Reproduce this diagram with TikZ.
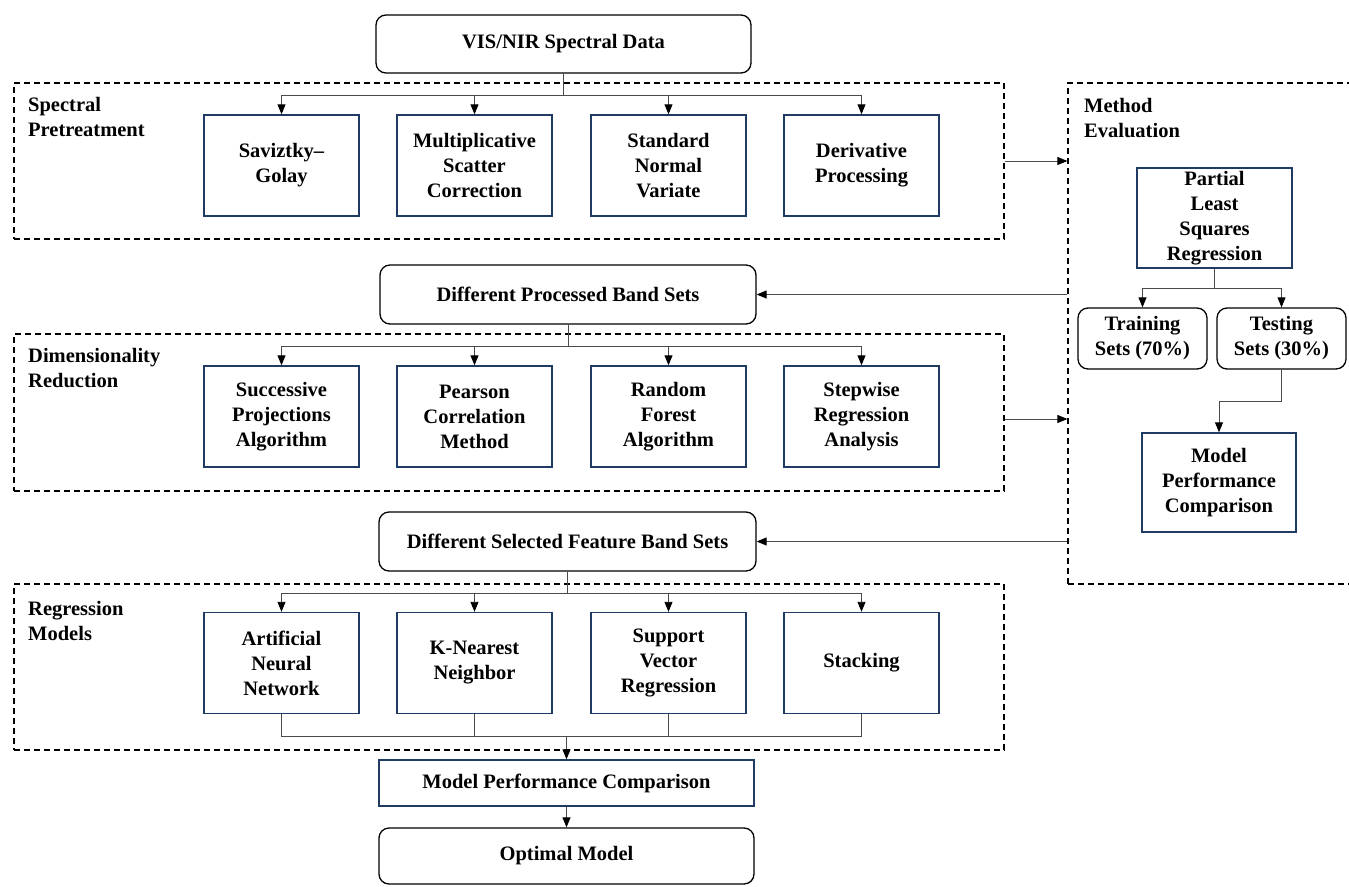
\documentclass[tikz,border=0pt]{standalone}
\usepackage{fontspec}
\setmainfont{Liberation Serif}
\usetikzlibrary{arrows.meta}
\definecolor{navy}{HTML}{1F3B64}
\definecolor{connc}{HTML}{4A4A4A}
\begin{document}
\begin{tikzpicture}[x=1pt,y=-1pt,
  txt/.style={font=\fontsize{20.5}{25}\selectfont\bfseries, align=center, text=black, inner sep=0pt},
  sqbox/.style={txt, draw=navy, line width=1.4pt, minimum width=155pt, minimum height=101pt},
  rbox/.style={txt, draw=black, line width=1.3pt, rounded corners=10pt},
  grp/.style={draw=black, line width=1.2pt, dash pattern=on 6pt off 4pt, minimum width=990pt, inner sep=0pt},
  lbl/.style={font=\fontsize{20.5}{25}\selectfont\bfseries, align=left, inner sep=0pt, anchor=north west},
  conn/.style={draw=connc, line width=0.9pt},
  arr/.style={conn, -{Triangle[length=10pt,width=8pt,color=black]}}
]
\useasboundingbox (0,0) rectangle (1349,886);

% groups
\node[grp, minimum height=156pt] (pre) at (509,161) {};
\node[grp, minimum height=157pt] (dim) at (509,412.5) {};
\node[grp, minimum height=166pt] (reg) at (509,667) {};
\node[grp, minimum width=292pt, minimum height=501pt] (meval) at (1214,333.5) {};

\node[lbl] (lpre) at (28,97) {Spectral\\Pretreatment};
\node[lbl] (ldim) at (28,348) {Dimensionality\\Reduction};
\node[lbl] (lreg) at (28,601) {Regression\\Models};
\node[lbl] (lmev) at (1084,98) {Method\\Evaluation};

% main column
\node[rbox, minimum width=375pt, minimum height=58pt] (vis) at (563.5,44) {VIS/NIR Spectral Data};
\node[rbox, minimum width=376pt, minimum height=59pt] (dpbs) at (568,294.5) {Different Processed Band Sets};
\node[rbox, minimum width=377pt, minimum height=59pt] (dsfb) at (567.5,541.5) {Different Selected Feature Band Sets};
\node[sqbox, minimum width=375pt, minimum height=46pt] (mpc) at (566.5,783) {Model Performance Comparison};
\node[rbox, minimum width=375pt, minimum height=56pt] (opt) at (566.5,856) {Optimal Model};

% pretreatment boxes
\node[sqbox] (sg)  at (281.5,165.5) {Saviztky–\\Golay};
\node[sqbox] (msc) at (474.5,165.5) {Multiplicative\\Scatter\\Correction};
\node[sqbox] (snv) at (668.5,165.5) {Standard\\Normal\\Variate};
\node[sqbox] (der) at (861.5,165.5) {Derivative\\Processing};

% dimensionality reduction boxes
\node[sqbox] (spa) at (281.5,416.5) {Successive\\Projections\\Algorithm};
\node[sqbox] (pcm) at (474.5,416.5) {Pearson\\Correlation\\Method};
\node[sqbox] (rfa) at (668.5,416.5) {Random\\Forest\\Algorithm};
\node[sqbox] (sra) at (861.5,416.5) {Stepwise\\Regression\\Analysis};

% regression boxes
\node[sqbox] (ann) at (281.5,663) {Artificial\\Neural\\Network};
\node[sqbox] (knn) at (474.5,663) {K-Nearest\\Neighbor};
\node[sqbox] (svr) at (668.5,663) {Support\\Vector\\Regression};
\node[sqbox] (stk) at (861.5,663) {Stacking};

% method evaluation content
\node[sqbox, minimum width=155pt, minimum height=100pt] (pls) at (1214.5,218) {Partial\\Least\\Squares\\Regression};
\node[rbox, minimum width=129pt, minimum height=61pt] (train) at (1142.5,338.5) {Training\\Sets (70\%)};
\node[rbox, minimum width=129pt, minimum height=61pt] (test) at (1281.5,338.5) {Testing\\Sets (30\%)};
\node[sqbox, minimum width=154pt, minimum height=99pt] (mpc2) at (1219,482.5) {Model\\Performance\\Comparison};

% branches
\coordinate (j1) at (563.5,95);
\draw[conn] (vis.south) -- (j1);
\foreach \n in {sg,msc,snv,der} \draw[arr] (j1) -| (\n.north);

\coordinate (j2) at (568,346);
\draw[conn] (dpbs.south) -- (j2);
\foreach \n in {spa,pcm,rfa,sra} \draw[arr] (j2) -| (\n.north);

\coordinate (j3) at (567.5,593);
\draw[conn] (dsfb.south) -- (j3);
\foreach \n in {ann,knn,svr,stk} \draw[arr] (j3) -| (\n.north);

\coordinate (j7) at (566.5,736);
\foreach \n in {ann,knn,svr,stk} \draw[conn] (\n.south) |- (j7);
\draw[arr] (j7) -- (mpc.north);
\draw[arr] (mpc.south) -- (opt.north);

% to / from method evaluation
\draw[arr] (pre.east) -- (pre.east -| meval.west);
\draw[arr] ([yshift=-6.5pt]dim.east) -- ([yshift=-6.5pt]dim.east -| meval.west);
\draw[arr] (meval.west |- dpbs.east) -- (dpbs.east);
\draw[arr] (meval.west |- dsfb.east) -- (dsfb.east);

% inside method evaluation
\coordinate (j4) at (1214.5,288);
\draw[conn] (pls.south) -- (j4);
\draw[arr] (j4) -| (train.north);
\draw[arr] (j4) -| (test.north);
\coordinate (j5) at (1281.5,401);
\draw[conn] (test.south) -- (j5);
\draw[arr] (j5) -| (mpc2.north);
\end{tikzpicture}
\end{document}
